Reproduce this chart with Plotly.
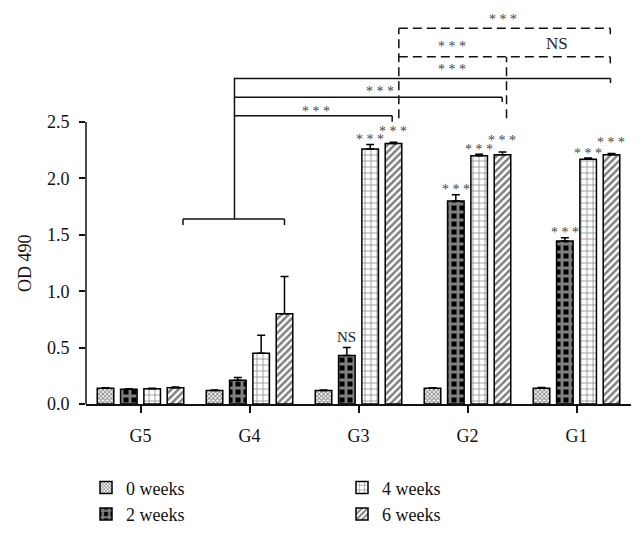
import plotly.graph_objects as go

# ---------------- data ----------------
categories = ["G5", "G4", "G3", "G2", "G1"]
series_names = ["0 weeks", "2 weeks", "4 weeks", "6 weeks"]

wk0 = [0.14, 0.12, 0.12, 0.14, 0.14]
wk0_err = [0.005, 0.004, 0.005, 0.005, 0.006]
wk2 = [0.13, 0.21, 0.43, 1.80, 1.445]
wk2_err = [0.005, 0.025, 0.07, 0.055, 0.03]
wk4 = [0.135, 0.45, 2.26, 2.20, 2.17]
wk4_err = [0.005, 0.16, 0.04, 0.015, 0.01]
wk6 = [0.145, 0.80, 2.31, 2.21, 2.21]
wk6_err = [0.005, 0.33, 0.01, 0.025, 0.01]

y_ticks = [0.0, 0.5, 1.0, 1.5, 2.0, 2.5]
y_ticktext = ["0.0", "0.5", "1.0", "1.5", "2.0", "2.5"]

# significance marks above single bars
bar_sig_cat = ["G3", "G3", "G3", "G2", "G2", "G2", "G1", "G1", "G1"]
bar_sig_series = [1, 2, 3, 1, 2, 3, 1, 2, 3]
bar_sig_text = ["NS", "***", "***", "***", "***", "***", "***", "***", "***"]

# ---------------- styling ----------------
FONT = "Liberation Serif"
values = [wk0, wk2, wk4, wk6]
errors = [wk0_err, wk2_err, wk4_err, wk6_err]
patterns = [
    dict(shape="x", size=3, solidity=0.5, fgcolor="black", bgcolor="white"),
    dict(shape="+", size=8, solidity=0.6, fgcolor="white", bgcolor="black"),
    dict(shape="+", size=6, solidity=0.22, fgcolor="black", bgcolor="white"),
    dict(shape="/", size=5, solidity=0.5, fgcolor="black", bgcolor="white"),
]
ranks = [1, 3, 2, 4]
BARGAP = 0.144

fig = go.Figure()
for k in range(4):
    fig.add_trace(go.Bar(
        x=categories, y=values[k], name=series_names[k],
        legendrank=ranks[k],
        marker=dict(color="white", pattern=patterns[k],
                    line=dict(color="black", width=1.5)),
        error_y=dict(type="data", array=errors[k], symmetric=False,
                     arrayminus=[0] * len(categories),
                     color="black", thickness=1.5, width=4),
    ))

def star(t):
    return "* * *" if t == "***" else t

STAR_COLOR = "#444"
annotations = []
slot = (1 - BARGAP) / 4
for c, s, t in zip(bar_sig_cat, bar_sig_series, bar_sig_text):
    i = categories.index(c)
    xpos = i + (s - 1.5) * slot
    top = values[s][i] + errors[s][i]
    if t == "NS":
        shift = 11
    else:
        shift = (14 if s == 3 else 8) - 3
    annotations.append(dict(
        x=xpos, y=top, xref="x", yref="y", text=star(t), showarrow=False,
        yanchor="middle", yshift=shift,
        font=dict(family=FONT, size=14 if t == "***" else 15,
                  color=STAR_COLOR if t == "***" else "#222"),
    ))

# bracket labels (x, y, text)
bracket_labels = [
    (3.33, 3.433, "***"),
    (2.86, 3.198, "***"),
    (3.82, 3.198, "NS"),
    (2.86, 2.99, "***"),
    (2.20, 2.80, "***"),
    (1.606, 2.62, "***"),
]
for bx, by, t in bracket_labels:
    annotations.append(dict(
        x=bx, y=by, xref="x", yref="y", text=star(t), showarrow=False,
        yanchor="middle", yshift=-3 if t == "***" else 0,
        font=dict(family=FONT, size=14 if t == "***" else 17,
                  color=STAR_COLOR if t == "***" else "#222"),
    ))

# y-axis title
annotations.append(dict(
    x=-0.112, y=1.25, xref="paper", yref="y", text="OD 490", textangle=-90,
    showarrow=False, xanchor="center", yanchor="middle",
    font=dict(family=FONT, size=18, color="#111"),
))

solid_lines = [
    (0.39, 1.587, 0.39, 1.640), (0.39, 1.640, 1.321, 1.640), (1.321, 1.640, 1.321, 1.587),
    (0.862, 1.640, 0.862, 2.893),
    (0.862, 2.887, 4.312, 2.887), (4.312, 2.887, 4.312, 2.846),
    (0.862, 2.719, 3.318, 2.719), (3.318, 2.719, 3.318, 2.677),
    (0.862, 2.556, 2.309, 2.556), (2.309, 2.556, 2.309, 2.503),
]
dashed_lines = [
    (2.37, 2.533, 2.37, 3.331), (2.37, 3.331, 4.31, 3.331), (4.31, 3.331, 4.31, 3.278),
    (3.358, 2.533, 3.358, 3.079), (2.37, 3.079, 4.31, 3.079), (4.31, 3.079, 4.31, 3.020),
]
shapes = []
for x0, y0, x1, y1 in solid_lines:
    shapes.append(dict(type="line", xref="x", yref="y", x0=x0, y0=y0, x1=x1, y1=y1,
                       line=dict(color="#111", width=1.5)))
for x0, y0, x1, y1 in dashed_lines:
    shapes.append(dict(type="line", xref="x", yref="y", x0=x0, y0=y0, x1=x1, y1=y1,
                       line=dict(color="#111", width=1.5, dash="9px,5px")))
# y-axis line (only up to 2.5)
shapes.append(dict(type="line", xref="paper", yref="y", x0=0, x1=0, y0=0, y1=2.5,
                   line=dict(color="#111", width=1.5)))

# page body has an 8px default margin: figure is sized/offset to compensate
fig.update_layout(
    width=636, height=532,
    margin=dict(l=78, r=13, t=0, b=136, autoexpand=False),
    paper_bgcolor="white", plot_bgcolor="white",
    barmode="group", bargap=BARGAP, bargroupgap=0.29,
    font=dict(family=FONT, size=18, color="#111"),
    xaxis=dict(range=[-0.5, 4.5], showline=True, linecolor="#111", linewidth=1.5,
               ticks="outside", ticklen=7, tickwidth=1.5, tickcolor="#111",
               showgrid=False, zeroline=False, ticklabelstandoff=8,
               tickfont=dict(family=FONT, size=18, color="#111")),
    yaxis=dict(range=[0, 3.511], tickvals=y_ticks, ticktext=y_ticktext,
               ticks="outside", ticklen=6, tickwidth=1.5, tickcolor="#111",
               showline=False, showgrid=False, zeroline=False, ticklabelstandoff=6,
               tickfont=dict(family=FONT, size=18, color="#111")),
    legend=dict(orientation="h", x=0, xanchor="left", y=-0.165, yanchor="top",
                entrywidth=211, entrywidthmode="pixels", traceorder="normal",
                tracegroupgap=0,
                font=dict(family=FONT, size=18, color="#111"),
                bgcolor="rgba(0,0,0,0)"),
    annotations=annotations,
    shapes=shapes,
)

fig.write_html("out.html")
